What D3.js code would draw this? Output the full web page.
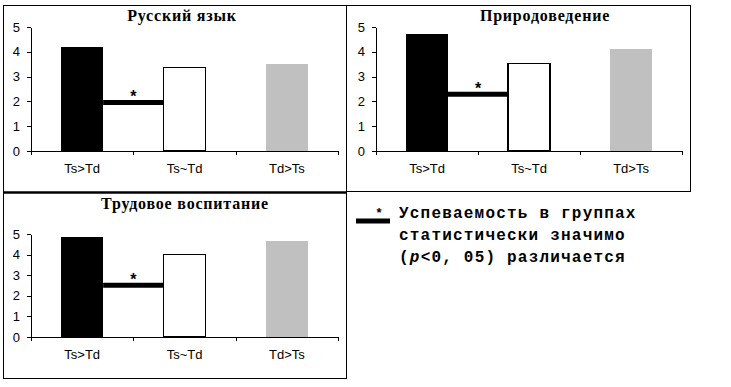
<!DOCTYPE html>
<html>
<head>
<meta charset="utf-8">
<script src="https://cdn.jsdelivr.net/npm/d3@7"></script>
<style>
  html, body { margin: 0; padding: 0; background: #fff; }
  svg { display: block; }
</style>
</head>
<body>
<svg id="chart" width="731" height="387"></svg>
<script>
// ---- data ----
const categories = ["Ts>Td", "Ts~Td", "Td>Ts"];
const subjects = ["Русский язык", "Природоведение", "Трудовое воспитание"];
const russianValues = [4.18, 3.37, 3.50];
const natureValues = [4.72, 3.54, 4.11];
const labourValues = [4.84, 4.01, 4.66];
const significanceLevels = [1.96, 2.29, 2.51];
const yTicks = [0, 1, 2, 3, 4, 5];
const barColors = ["#000000", "#ffffff", "#c0c0c0"];
const legendLines = ["Успеваемость в группах", "статистически значимо"];

const seriesValues = [russianValues, natureValues, labourValues];

// ---- layout (positions only) ----
const panels = [
  { box: [3, 5, 346, 192], plot: [31, 338, 151, 27], title: [182, 21] },
  { box: [346, 5, 690, 191], plot: [376, 682, 151, 27], title: [545, 20.5] },
  { box: [3, 192, 346, 378], plot: [31, 338, 337, 234], title: [185, 209] }
];

const svg = d3.select("#chart");

panels.forEach((p, i) => {
  const g = svg.append("g");
  const [bx0, by0, bx1, by1] = p.box;
  g.append("rect")
    .attr("x", bx0 + 0.5).attr("y", by0 + 0.5)
    .attr("width", bx1 - bx0).attr("height", by1 - by0)
    .attr("fill", "none").attr("stroke", "#000").attr("stroke-width", 1);

  const [px0, px1, py0, py1] = p.plot;
  const x = d3.scaleBand().domain(categories).range([px0, px1])
    .paddingInner(0.59).paddingOuter(0.295);
  const xLin = d3.scaleLinear().domain([0, categories.length]).range([px0, px1]);
  const y = d3.scaleLinear().domain([0, 5]).range([py0, py1]);

  // bars
  g.selectAll("rect.bar").data(seriesValues[i]).join("rect")
    .attr("class", "bar")
    .attr("x", (d, j) => x(categories[j]))
    .attr("y", d => y(d))
    .attr("width", x.bandwidth())
    .attr("height", d => y(0) - y(d))
    .attr("fill", (d, j) => barColors[j])
    .attr("stroke", (d, j) => j === 1 ? "#000" : "none")
    .attr("stroke-width", 1.2)
    .attr("shape-rendering", "crispEdges");

  // y axis
  const yAxis = g.append("g").attr("transform", `translate(${px0},0)`)
    .call(d3.axisLeft(y).tickValues(yTicks).tickFormat(d3.format("d"))
      .tickSize(4).tickSizeOuter(0).tickPadding(7));
  yAxis.selectAll("text").attr("font-family", "Liberation Sans, Arial, sans-serif")
    .attr("font-size", 13).attr("fill", "#000");
  yAxis.selectAll("path,line").attr("stroke", "#000").attr("shape-rendering", "crispEdges");

  // x axis (ticks at category boundaries)
  const xAxis = g.append("g").attr("transform", `translate(0,${py0})`)
    .call(d3.axisBottom(xLin).tickValues(d3.range(categories.length + 1))
      .tickSize(4).tickSizeOuter(0).tickFormat(""));
  xAxis.selectAll("path,line").attr("stroke", "#000").attr("shape-rendering", "crispEdges");

  const xLab = g.append("g").attr("transform", `translate(0,${py0})`)
    .call(d3.axisBottom(x).tickSize(0).tickPadding(13));
  xLab.select(".domain").remove();
  xLab.selectAll("text").attr("font-family", "Liberation Sans, Arial, sans-serif")
    .attr("font-size", 13).attr("fill", "#000");

  // significance line
  const sy = y(significanceLevels[i]);
  g.append("line")
    .attr("x1", x(categories[0]) + x.bandwidth())
    .attr("x2", x(categories[1]))
    .attr("y1", sy).attr("y2", sy)
    .attr("stroke", "#000").attr("stroke-width", 5);
  g.append("text")
    .attr("x", xLin(1)).attr("y", sy - 0.5)
    .attr("text-anchor", "middle")
    .attr("font-family", "Liberation Sans, Arial, sans-serif")
    .attr("font-weight", "bold").attr("font-size", 16)
    .text("*");

  // title
  g.append("text")
    .attr("x", p.title[0]).attr("y", p.title[1])
    .attr("text-anchor", "middle")
    .attr("font-family", "Liberation Serif, Times New Roman, serif")
    .attr("font-weight", "bold").attr("font-size", 16)
    .attr("letter-spacing", 0.8)
    .text(subjects[i]);
});

// thicker separator between panel 1 and panel 3
svg.append("line").attr("x1", 3).attr("x2", 347).attr("y1", 192.5).attr("y2", 192.5)
  .attr("stroke", "#000").attr("stroke-width", 2.5);

// legend
const lg = svg.append("g");
lg.append("line").attr("x1", 356).attr("x2", 390).attr("y1", 221).attr("y2", 221)
  .attr("stroke", "#000").attr("stroke-width", 5);
lg.append("text").attr("x", 379).attr("y", 217)
  .attr("text-anchor", "middle")
  .attr("font-family", "Liberation Sans, Arial, sans-serif")
  .attr("font-weight", "bold").attr("font-size", 13).text("*");

const legFont = { family: "Liberation Mono, Courier New, monospace", size: 16, spacing: 1.2 };
const baselines = [218, 240, 262];
legendLines.forEach((t, k) => {
  lg.append("text").attr("x", 399).attr("y", baselines[k])
    .attr("font-family", legFont.family).attr("font-weight", "bold")
    .attr("font-size", legFont.size).attr("letter-spacing", legFont.spacing)
    .text(t);
});
const l3 = lg.append("text").attr("x", 399).attr("y", baselines[2])
  .attr("font-family", legFont.family).attr("font-weight", "bold")
  .attr("font-size", legFont.size).attr("letter-spacing", legFont.spacing);
l3.append("tspan").text("(");
l3.append("tspan").attr("font-style", "italic").text("p");
l3.append("tspan").text("<0, 05) различается");
</script>
</body>
</html>
